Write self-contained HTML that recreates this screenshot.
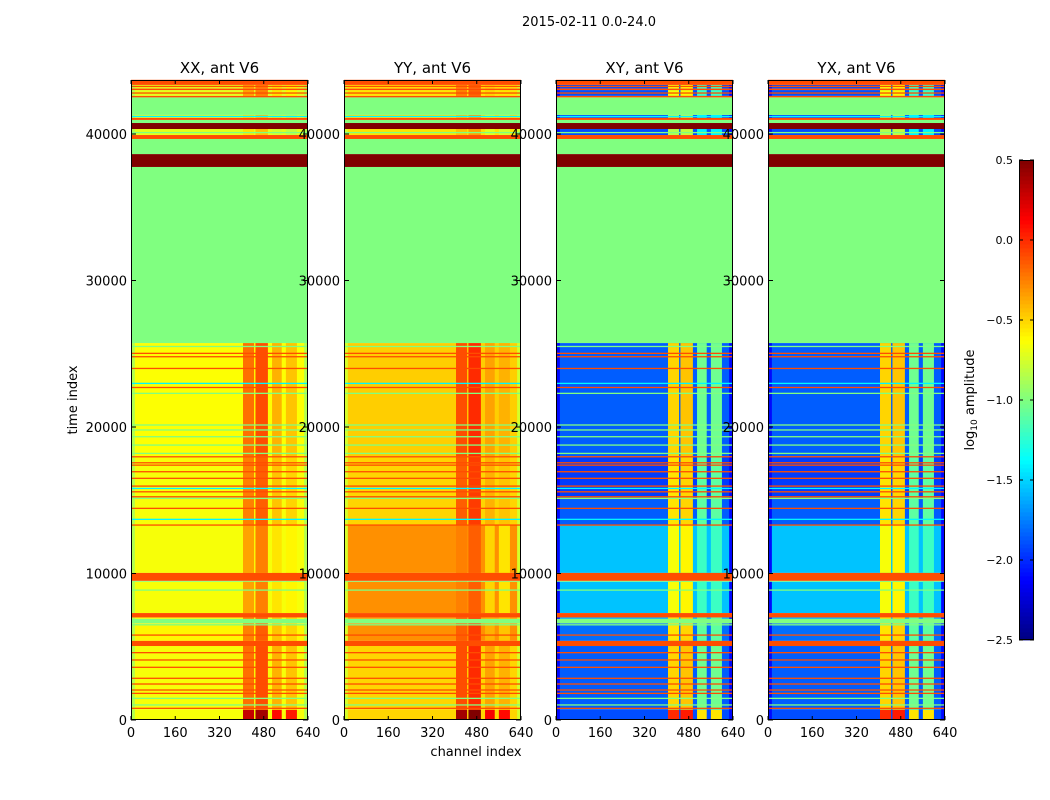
<!DOCTYPE html>
<html><head><meta charset="utf-8"><style>
body{margin:0;background:#fff;}
svg{display:block;font-family:"DejaVu Sans","Liberation Sans",sans-serif;}
</style></head><body>
<svg id="fig" width="1050" height="800" viewBox="0 0 1050 800">
<text x="589" y="26" font-size="13" text-anchor="middle">2015-02-11 0.0-24.0</text>
<text transform="translate(77,400) rotate(-90)" font-size="13" text-anchor="middle">time index</text>
<text x="476" y="756" font-size="13" text-anchor="middle">channel index</text>
<g id="panels"></g>
<g id="cbar"></g>
</svg>
<script>
// ---- data ----
const panelTitles = ["XX, ant V6", "YY, ant V6", "XY, ant V6", "YX, ant V6"];
const xTicks = [0, 160, 320, 480, 640];
const yTicks = [0, 10000, 20000, 30000, 40000];
const cbarTicks = [0.5, 0.0, -0.5, -1.0, -1.5, -2.0, -2.5];
const cbarLabels = ["0.5", "0.0", "\u22120.5", "\u22121.0", "\u22121.5", "\u22122.0", "\u22122.5"];
// flag bands: [tStart, tEnd, value] same in every panel
const flagBands = [
 [5050,5400,-0.1],[6600,6900,-1.0],[7000,7300,-0.1],[9440,9500,-1.0],[9500,10040,-0.1],
 [25730,37750,-1.0],[37750,38630,0.5],[38630,39660,-1.0],[39660,39930,-0.1],
 [40340,40750,0.5],[40750,40960,-1.0],[40960,41100,-0.1],[41300,42500,-1.0],
 [42500,42600,-0.1],[43000,43100,-0.1],[43350,43700,-0.1]
];
// data segments: [tStart, tEnd, baseXX, baseYY, baseXY, baseYX, rfiBoost]
const dataSegments = [
 [0,700,-0.65,-0.5,-1.9,-1.9,0.55],
 [700,5050,-0.65,-0.5,-1.85,-1.85,0.05],
 [5400,6600,-0.6,-0.3,-1.8,-1.8,0.0],
 [6900,7000,-0.65,-0.35,-1.6,-1.6,0],
 [7300,9440,-0.65,-0.3,-1.55,-1.55,-0.1],
 [10040,13300,-0.65,-0.3,-1.55,-1.55,-0.1],
 [13300,15200,-0.65,-0.5,-1.85,-1.85,0.0],
 [15200,18000,-0.65,-0.5,-1.95,-1.95,0.0],
 [18000,25730,-0.63,-0.48,-1.85,-1.85,0.05],
 [39930,40340,-0.7,-0.55,-1.9,-1.9,-0.3],
 [41100,41300,-0.7,-0.55,-1.9,-1.9,-0.3],
 [42600,43000,-0.7,-0.55,-1.9,-1.9,-0.1],
 [43100,43350,-0.7,-0.55,-1.9,-1.9,-0.1]
];
// RFI channel blocks
const blockStart = [405, 450, 510, 560];
const blockEnd   = [445, 495, 545, 600];
const blockXX = [-0.25, -0.15, -0.45, -0.5];
const blockYY = [-0.15, -0.05, -0.4, -0.45];
const blockXY = [-0.55, -0.5, -1.1, -1.1];
const blockYX = [-0.55, -0.5, -1.1, -1.1];
const edgeWidth = 14;
const edgeValues = [-0.85, -0.75, -2.1, -2.1];
// thin lines (time values)
const orangeLines = [25030,24800,24000,22700,17970,17560,17400,16950,16500,15970,15580,15240,14450,13310,5800,4600,4100,3600,2850,2460,2050,1820,800,42800,43250];
const greenLines = [25500,22300,20140,19800,19340,18770,18200,15130,8870,6500,1480,1030,40100];
const cyanLines = [22980,15810,13700,41200];

// ---- helpers ----
const NS = "http://www.w3.org/2000/svg";
const panelX = [131, 344, 556, 768];
const panelW = 177, yTop = 80, yBot = 720, tMax = 43686;
function yS(t){ return yBot - t/tMax*(yBot-yTop); }
function xS(p, ch){ return panelX[p] + ch/640*panelW; }
function jet(v){
  let x = (v+2.5)/3; x = Math.max(0, Math.min(1, x));
  const c = f => Math.round(255*Math.max(0, Math.min(1, f)));
  const r = c(Math.min(4*x-1.5, -4*x+4.5));
  const g = c(Math.min(4*x-0.5, -4*x+3.5));
  const b = c(Math.min(4*x+0.5, -4*x+2.5));
  return `rgb(${r},${g},${b})`;
}
function rect(parent, x, y, w, h, fill){
  const r = document.createElementNS(NS, "rect");
  r.setAttribute("x", x); r.setAttribute("y", y);
  r.setAttribute("width", w); r.setAttribute("height", h);
  r.setAttribute("fill", fill);
  parent.appendChild(r);
  return r;
}
function txt(parent, x, y, s, anchor, size){
  const t = document.createElementNS(NS, "text");
  t.setAttribute("x", x); t.setAttribute("y", y);
  t.setAttribute("font-size", size || 13);
  t.setAttribute("text-anchor", anchor || "middle");
  t.textContent = s;
  parent.appendChild(t);
  return t;
}
const blockSets = [blockXX, blockYY, blockXY, blockYX];
const panelsG = document.getElementById("panels");
for (let p = 0; p < 4; p++){
  const g = document.createElementNS(NS, "g");
  
  
  panelsG.appendChild(g);
  dataSegments.forEach(seg => {
    const y1 = yS(seg[1]), y0 = yS(seg[0]), h = y0 - y1;
    const base = seg[2+p], boost = seg[6];
    let r = rect(g, xS(p,0), y1, panelW, h, jet(base));
    
    
    r = rect(g, xS(p,0), y1, xS(p,edgeWidth)-xS(p,0), h, jet(edgeValues[p]));
    
    
    r = rect(g, xS(p,640-edgeWidth), y1, xS(p,640)-xS(p,640-edgeWidth), h, jet(edgeValues[p]));
    
    
    for (let b = 0; b < blockStart.length; b++){
      r = rect(g, xS(p,blockStart[b]), y1, xS(p,blockEnd[b])-xS(p,blockStart[b]), h, jet(blockSets[p][b] + boost));
      
      
    }
  });
  flagBands.forEach(fb => {
    const r = rect(g, xS(p,0), yS(fb[1]), panelW, yS(fb[0])-yS(fb[1]), jet(fb[2]));
    
    
  });
  const drawLines = (arr, v) => arr.forEach(t => {
    const r = rect(g, xS(p,0), yS(t)-0.6, panelW, 1.3, jet(v));
    
    
  });
  drawLines(orangeLines, -0.1);
  drawLines(greenLines, -1.0);
  drawLines(cyanLines, -1.4);
  const fr = rect(g, panelX[p]+0.5, yTop+0.5, panelW-1, yBot-yTop-1, "none");
  fr.setAttribute("stroke", "#000"); fr.setAttribute("stroke-width", "1");
  
  
  const tt = txt(g, panelX[p]+panelW/2, 73, panelTitles[p], "middle", 15);
  
  
  xTicks.forEach(v => {
    const x = xS(p, v);
    const tl = txt(g, x, 737, String(v), "middle", 13);
    
    
    [[yBot, yBot-4], [yTop, yTop+4]].forEach(([a, b]) => {
      const l = rect(g, x-0.5, Math.min(a,b), 1, 4, "#000");
      
      
    });
  });
  yTicks.forEach(v => {
    const y = yS(v);
    const tl = txt(g, panelX[p]-4, y+5, String(v), "end", 13);
    
    
    let l = rect(g, panelX[p], y-0.5, 5, 1, "#000");
    
    
    l = rect(g, panelX[p]+panelW-5, y-0.5, 5, 1, "#000");
    
    
  });
}
// colorbar
const cb = document.getElementById("cbar");
const cbX = 1019, cbW = 15, cbTop = 160, cbBot = 640;
const cbY = v => cbBot - (v+2.5)/3*(cbBot-cbTop);
for (let i = 0; i < 120; i++){
  const v0 = -2.5 + i*3/120, v1 = v0 + 3/120;
  const r = rect(cb, cbX, cbY(v1), cbW, cbY(v0)-cbY(v1)+0.4, jet((v0+v1)/2));
  
  
}
const cf = rect(cb, cbX+0.5, cbTop+0.5, cbW-1, cbBot-cbTop-1, "none");
cf.setAttribute("stroke", "#000");


cbarTicks.forEach((v, i) => {
  const y = cbY(v);
  const t = txt(cb, 1013, y+4, cbarLabels[i], "end", 11);
  
  
  let l = rect(cb, cbX+cbW-4, y-0.5, 4, 1, "#000");
  
  
  l = rect(cb, cbX, y-0.5, 4, 1, "#000");
  
  
});
const cl = document.createElementNS(NS, "text");
cl.setAttribute("transform", "translate(974,400) rotate(-90)");
cl.setAttribute("font-size", "13");
cl.setAttribute("text-anchor", "middle");
cl.innerHTML = 'log<tspan font-size="9" dy="3">10</tspan><tspan dy="-3"> amplitude</tspan>';


cb.appendChild(cl);
</script>
</body></html>
